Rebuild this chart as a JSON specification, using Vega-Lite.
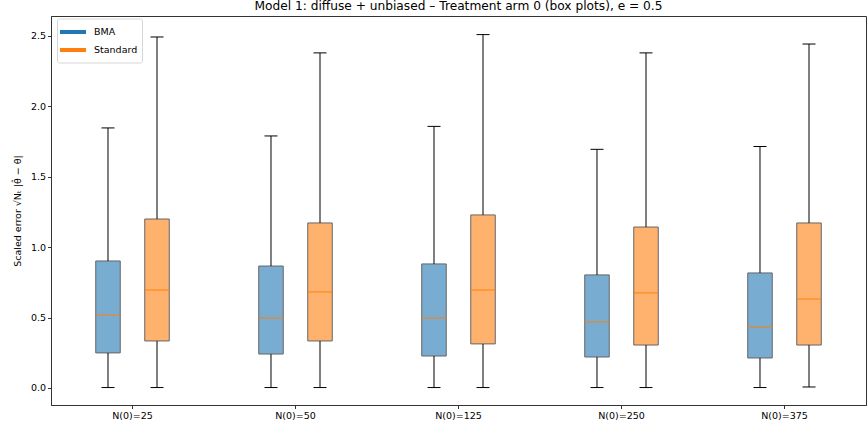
{
  "$schema": "https://vega.github.io/schema/vega-lite/v6.json",
  "autosize": "none",
  "width": 815,
  "height": 389,
  "padding": {"left": 51, "top": 16, "right": 1, "bottom": 24},
  "background": "white",
  "title": {"text": "Model 1: diffuse + unbiased – Treatment arm 0 (box plots), e = 0.5", "font": "DejaVu Sans", "fontSize": 12.2, "fontWeight": "normal", "color": "#000", "offset": 4},
  "config": {
    "view": {"stroke": "#333", "strokeWidth": 1},
    "font": "DejaVu Sans",
    "axis": {"labelFont": "DejaVu Sans", "titleFont": "DejaVu Sans", "labelFontSize": 9.5, "titleFontSize": 9.5, "titleFontWeight": "normal", "labelColor": "#000", "titleColor": "#000", "tickColor": "#333", "domainColor": "#333", "grid": false, "tickSize": 3.5}
  },
  "data": {"values": [
    {"group": "N(0)=25", "method": "BMA", "min": 0.003, "q1": 0.249, "median": 0.518, "q3": 0.902, "max": 1.847},
    {"group": "N(0)=25", "method": "Standard", "min": 0.003, "q1": 0.334, "median": 0.696, "q3": 1.2, "max": 2.493},
    {"group": "N(0)=50", "method": "BMA", "min": 0.003, "q1": 0.241, "median": 0.497, "q3": 0.866, "max": 1.79},
    {"group": "N(0)=50", "method": "Standard", "min": 0.003, "q1": 0.334, "median": 0.682, "q3": 1.172, "max": 2.38},
    {"group": "N(0)=125", "method": "BMA", "min": 0.003, "q1": 0.227, "median": 0.497, "q3": 0.881, "max": 1.858},
    {"group": "N(0)=125", "method": "Standard", "min": 0.003, "q1": 0.313, "median": 0.696, "q3": 1.229, "max": 2.51},
    {"group": "N(0)=250", "method": "BMA", "min": 0.003, "q1": 0.22, "median": 0.469, "q3": 0.803, "max": 1.695},
    {"group": "N(0)=250", "method": "Standard", "min": 0.003, "q1": 0.305, "median": 0.675, "q3": 1.143, "max": 2.38},
    {"group": "N(0)=375", "method": "BMA", "min": 0.003, "q1": 0.213, "median": 0.433, "q3": 0.817, "max": 1.715},
    {"group": "N(0)=375", "method": "Standard", "min": 0.007, "q1": 0.305, "median": 0.632, "q3": 1.172, "max": 2.443}
  ]},
  "encoding": {
    "x": {"field": "group", "type": "nominal", "sort": ["N(0)=25", "N(0)=50", "N(0)=125", "N(0)=250", "N(0)=375"],
      "scale": {"paddingInner": 0, "paddingOuter": 0},
      "axis": {"title": null, "labelAngle": 0}},
    "xOffset": {"field": "method", "type": "nominal", "sort": ["BMA", "Standard"], "scale": {"paddingInner": 0.5, "paddingOuter": 0.913}}
  },
  "layer": [
    {"mark": {"type": "line", "strokeWidth": 4, "opacity": 1},
     "encoding": {"y": {"field": "median", "type": "quantitative", "scale": {"domain": [-0.121, 2.642], "nice": false, "zero": false},
        "axis": {"title": "Scaled error √Nₜ |θ̂ − θ|", "values": [0, 0.5, 1, 1.5, 2, 2.5], "format": ".1f", "titlePadding": 8}},
       "detail": {"field": "group", "type": "nominal"},
       "color": {"field": "method", "type": "nominal", "scale": {"domain": ["BMA", "Standard"], "range": ["#1f77b4", "#ff7f0e"]},
         "legend": {"title": null, "orient": "none", "legendX": 6, "legendY": 2.5, "fillColor": "white", "strokeColor": "#d6d6d6", "cornerRadius": 2, "padding": 4,
           "symbolType": "M-1.4,0L2.07,0", "symbolSize": 225, "symbolStrokeWidth": 4, "symbolOpacity": 1, "labelFontSize": 9.5, "labelFont": "DejaVu Sans", "labelColor": "#000", "rowPadding": 0, "labelOffset": 14}}}},
    {"mark": {"type": "rule", "color": "#000", "strokeWidth": 1},
     "encoding": {"y": {"field": "min", "type": "quantitative"}, "y2": {"field": "q1"}}},
    {"mark": {"type": "rule", "color": "#000", "strokeWidth": 1},
     "encoding": {"y": {"field": "q3", "type": "quantitative"}, "y2": {"field": "max"}}},
    {"mark": {"type": "tick", "color": "#000", "size": 13, "thickness": 1, "opacity": 1},
     "encoding": {"y": {"field": "min", "type": "quantitative"}}},
    {"mark": {"type": "tick", "color": "#000", "size": 13, "thickness": 1, "opacity": 1},
     "encoding": {"y": {"field": "max", "type": "quantitative"}}},
    {"transform": [{"filter": "datum.method === 'BMA'"}],
     "mark": {"type": "bar", "fill": "#1f77b4", "opacity": 0.6, "stroke": "#000", "strokeWidth": 1},
     "encoding": {"y": {"field": "q1", "type": "quantitative"}, "y2": {"field": "q3"}}},
    {"transform": [{"filter": "datum.method === 'Standard'"}],
     "mark": {"type": "bar", "fill": "#ff7f0e", "opacity": 0.6, "stroke": "#000", "strokeWidth": 1},
     "encoding": {"y": {"field": "q1", "type": "quantitative"}, "y2": {"field": "q3"}}},
    {"mark": {"type": "tick", "color": "#ff7f0e", "thickness": 1, "opacity": 1},
     "encoding": {"y": {"field": "median", "type": "quantitative"}}}
  ]
}
